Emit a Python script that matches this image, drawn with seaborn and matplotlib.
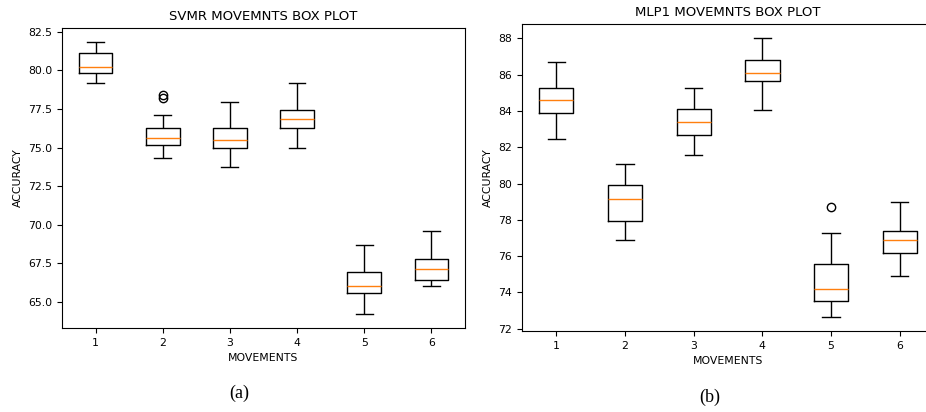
import pandas as pd
import seaborn as sns
import matplotlib.pyplot as plt

movements = ["1", "2", "3", "4", "5", "6"]

# SVMR accuracy samples per movement
svmr_1 = [79.21, 79.55, 79.84, 80.05, 80.25, 80.70, 81.16, 81.50, 81.87]
svmr_2 = [74.29, 74.70, 74.95, 75.14, 75.30, 75.50, 75.63, 75.85, 76.05, 76.24, 77.13, 78.21, 78.38]
svmr_3 = [73.77, 74.40, 74.98, 75.25, 75.50, 75.90, 76.28, 77.10, 77.93]
svmr_4 = [75.00, 75.70, 76.24, 76.55, 76.87, 77.15, 77.45, 78.30, 79.21]
svmr_5 = [64.18, 64.90, 65.54, 65.75, 66.00, 66.50, 66.95, 67.80, 68.70]
svmr_6 = [66.00, 66.20, 66.43, 66.80, 67.12, 67.45, 67.75, 68.60, 69.57]

# MLP1 accuracy samples per movement
mlp1_1 = [82.48, 83.20, 83.86, 84.25, 84.63, 84.95, 85.28, 86.00, 86.69]
mlp1_2 = [76.91, 77.40, 77.92, 78.50, 79.14, 79.50, 79.93, 80.50, 81.10]
mlp1_3 = [81.56, 82.10, 82.67, 83.00, 83.38, 83.75, 84.12, 84.70, 85.28]
mlp1_4 = [84.05, 84.90, 85.65, 85.90, 86.11, 86.45, 86.82, 87.40, 88.02]
mlp1_5 = [72.64, 73.10, 73.51, 73.85, 74.19, 74.90, 75.55, 77.26, 78.71]
mlp1_6 = [74.92, 75.60, 76.16, 76.50, 76.86, 77.10, 77.41, 78.20, 79.00]


def long_form(groups):
    rows = []
    for mv, vals in zip(movements, groups):
        for v in vals:
            rows.append({"movement": mv, "accuracy": v})
    return pd.DataFrame(rows)


svmr_df = long_form([svmr_1, svmr_2, svmr_3, svmr_4, svmr_5, svmr_6])
mlp1_df = long_form([mlp1_1, mlp1_2, mlp1_3, mlp1_4, mlp1_5, mlp1_6])

fig = plt.figure(figsize=(9.26, 4.12), dpi=100)
ax1 = fig.add_axes([0.067, 0.204, 0.435, 0.728])
ax2 = fig.add_axes([0.5637, 0.1966, 0.445, 0.745])

box_kws = dict(
    order=movements, width=0.5, fill=False, color="black", linecolor="black",
    linewidth=1, whis=1.5,
    medianprops=dict(color="#ff7f0e", linewidth=1),
    flierprops=dict(marker="o", markerfacecolor="none", markeredgecolor="black",
                    markersize=6),
)

for ax, df, title in [(ax1, svmr_df, "SVMR MOVEMNTS BOX PLOT"),
                      (ax2, mlp1_df, "MLP1 MOVEMNTS BOX PLOT")]:
    sns.boxplot(data=df, x="movement", y="accuracy", ax=ax, **box_kws)
    ax.set_title(title, fontsize=9.5)
    ax.set_xlabel("MOVEMENTS", fontsize=7.8)
    ax.set_ylabel("ACCURACY", fontsize=7.8)
    ax.tick_params(labelsize=7.8)

fig.text(0.258, 0.046, "(a)", fontsize=13, family="Liberation Serif",
         ha="center", va="center")
fig.text(0.766, 0.036, "(b)", fontsize=13, family="Liberation Serif",
         ha="center", va="center")

fig.savefig("out.png", dpi=100)
